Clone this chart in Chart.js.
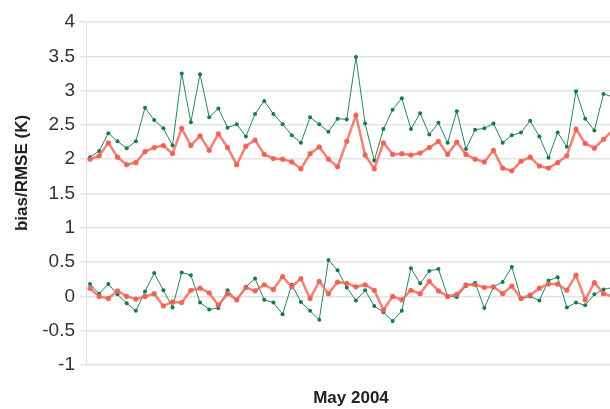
<!DOCTYPE html>
<html><head><meta charset="utf-8">
<script src="https://cdn.jsdelivr.net/npm/chart.js@4.4.1/dist/chart.umd.min.js"></script>
<style>
html,body{margin:0;padding:0;background:#fff;overflow:hidden;width:610px;height:409px}
#wrap{position:relative;width:630px;height:409px}
</style></head><body>
<div id="wrap"><canvas id="c" width="630" height="409"></canvas></div>
<script>
const days = Array.from({length:58},(_,i)=>i+1);
const rmseA = [2.03,2.12,2.38,2.26,2.16,2.26,2.75,2.57,2.45,2.2,3.25,2.54,3.24,2.61,2.74,2.46,2.51,2.33,2.66,2.85,2.66,2.51,2.35,2.24,2.61,2.51,2.40,2.59,2.58,3.49,2.52,1.98,2.44,2.72,2.89,2.44,2.67,2.36,2.53,2.24,2.70,2.15,2.43,2.45,2.52,2.24,2.35,2.39,2.56,2.33,2.02,2.39,2.18,2.99,2.59,2.42,2.95,2.91];
const rmseB = [2.0,2.05,2.24,2.03,1.92,1.95,2.11,2.17,2.2,2.08,2.45,2.2,2.34,2.13,2.37,2.17,1.92,2.19,2.28,2.07,2.01,2.0,1.96,1.86,2.08,2.18,2.0,1.89,2.26,2.64,2.06,1.86,2.24,2.07,2.08,2.06,2.09,2.17,2.26,2.07,2.25,2.07,2.0,1.96,2.13,1.87,1.83,1.97,2.03,1.90,1.87,1.95,2.05,2.44,2.23,2.16,2.29,2.42];
const biasA = [0.18,0.04,0.18,0.03,-0.10,-0.21,0.07,0.34,0.09,-0.16,0.35,0.31,-0.09,-0.19,-0.17,0.09,-0.05,0.14,0.26,-0.05,-0.09,-0.26,0.17,-0.08,-0.21,-0.34,0.53,0.38,0.13,-0.06,0.09,-0.14,-0.23,-0.36,-0.21,0.41,0.19,0.37,0.40,0.0,-0.01,0.15,0.20,-0.17,0.14,0.21,0.43,-0.03,0.0,-0.06,0.23,0.28,-0.16,-0.09,-0.13,0.03,0.10,0.13];
const biasB = [0.12,0.0,-0.03,0.08,0.0,-0.04,0.0,0.04,-0.14,-0.08,-0.09,0.09,0.12,0.05,-0.13,0.04,-0.05,0.13,0.08,0.17,0.10,0.29,0.14,0.26,-0.03,0.22,0.04,0.21,0.19,0.14,0.17,0.09,-0.20,0.0,-0.05,0.09,0.04,0.22,0.08,0.0,0.03,0.17,0.17,0.13,0.14,0.04,0.15,-0.03,0.02,0.12,0.18,0.18,0.09,0.31,-0.05,0.20,0.04,0.0];
const yTicks = [-1,-0.5,0,0.5,1,1.5,2,2.5,3,3.5,4];
const yTitle = 'bias/RMSE (K)';
const xTitle = 'May 2004';

const pts = a => a.map((v,i)=>({x:days[i], y:v}));
const red = {borderColor:'rgba(240,112,98,0.85)', backgroundColor:'rgba(238,95,80,0.9)', borderWidth:2.6, pointRadius:2.6, pointBorderWidth:0, tension:0};
const green = {borderColor:'#22875c', backgroundColor:'#177a4e', borderWidth:1, pointRadius:2, pointBorderWidth:0, tension:0};

const yTitlePlugin = {
  id:'yTitle',
  afterDraw(chart){
    const ctx = chart.ctx;
    ctx.save();
    ctx.translate(22, 173);
    ctx.rotate(-Math.PI/2);
    ctx.font = 'bold 17px "Liberation Sans", Arial, sans-serif';
    ctx.fillStyle = '#222';
    ctx.textAlign = 'center';
    ctx.textBaseline = 'middle';
    ctx.fillText(yTitle, 0, 0);
    ctx.restore();
  }
};

new Chart(document.getElementById('c'), {
  type:'line',
  data:{datasets:[
    Object.assign({label:'RMSE B', data:pts(rmseB)}, red),
    Object.assign({label:'bias B', data:pts(biasB)}, red),
    Object.assign({label:'RMSE A', data:pts(rmseA)}, green),
    Object.assign({label:'bias A', data:pts(biasA)}, green)
  ]},
  plugins:[yTitlePlugin],
  options:{
    responsive:false, animation:false,
    layout:{padding:{top:22,right:14,left:0,bottom:0}},
    plugins:{legend:{display:false}, tooltip:{enabled:false}},
    scales:{
      x:{type:'linear', min:0.564, max:58.36,
         ticks:{display:false}, grid:{display:false}, border:{display:false},
         title:{display:true, text:xTitle, color:'#222', font:{family:'"Liberation Sans", Arial', size:17, weight:'bold'}, padding:{top:0,bottom:0}},
         afterFit: s => { s.height = 44; }},
      y:{min:-1, max:4,
         afterBuildTicks: s => { s.ticks = yTicks.map(v=>({value:v})); },
         ticks:{color:'#333', font:{family:'"Liberation Sans", Arial', size:19}, padding:5,
                callback: v => String(v)},
         grid:{color:'#e4e4e4', lineWidth:1.5, tickLength:6, tickColor:'#e4e4e4'},
         border:{display:true, color:'#e0e0e0', width:1},
         title:{display:false},
         afterFit: s => { s.width = 86; }}
    }
  }
});
</script></body></html>
